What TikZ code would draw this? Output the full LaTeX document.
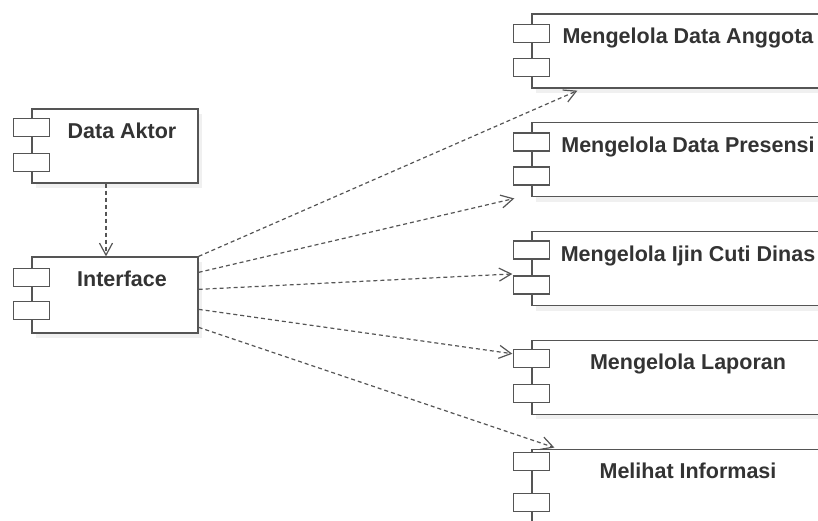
\documentclass[tikz,border=0pt]{standalone}
\usepackage{fontspec}
\setmainfont{Liberation Sans}
\usetikzlibrary{calc}
\usetikzlibrary{positioning}
\usetikzlibrary{chains,shadows,arrows.meta}
\definecolor{garis}{HTML}{555555}
\definecolor{teks}{HTML}{333333}
\tikzset{
	>={Straight Barb[length=12pt,width=13pt]},
	komponen/.style={
		rectangle,
		draw=garis, line width=1.3pt,
		fill=white,
		drop shadow={shadow xshift=4pt, shadow yshift=-5pt, opacity=0.12},
		minimum height=74pt,
		inner ysep=14pt,
		text height=15.5pt,
		text depth=30.5pt,
		text=teks,
		font=\fontsize{21.5}{24}\selectfont\bfseries,
		execute at begin node=\hspace*{14pt}},
	kiri/.style={komponen, minimum width=166pt},
	kanan/.style={komponen, minimum width=298pt, on chain},
	tab/.style={
		rectangle,
		draw=garis, line width=1.3pt,
		fill=white,
		minimum width=36pt,
		minimum height=18pt,
		inner sep=0pt},
	panah/.style={draw=garis, line width=1.2pt, dash pattern=on 4pt off 3pt, ->},
}
\begin{document}
\begin{tikzpicture}[x=1pt,y=1pt]
	\clip (0,0) rectangle (818,520);
	% kolom kiri
	\node[kiri] (aktor) at (115,374) {Data Aktor};
	\node[kiri, minimum height=76pt, text depth=32.5pt] (iface) at (115,225) {Interface};
	% kolom kanan
	\begin{scope}[start chain=going below, node distance=33.5pt]
		\node[kanan] (ang) at (681,469) {Mengelola Data Anggota};
		\node[kanan] (pres) {Mengelola Data Presensi};
		\node[kanan] (ijin) {Mengelola Ijin Cuti Dinas};
		\node[kanan] (lap) {Mengelola Laporan};
		\node[kanan] (info) {Melihat Informasi};
	\end{scope}
	% tab komponen
	\foreach \n/\t in {aktor/19,iface/21,ang/20,pres/20,ijin/19,lap/19,info/13}{
		\node[tab] (\n-a) at ($(\n.north west)+(0,-\t)$) {};
		\node[tab] (\n-b) at ($(\n.north west)+(0,-54)$) {};
	}
	% dependency
	\draw[panah] ($(aktor.south)+(-9,0)$) -- ($(iface.north)+(-9,0)$);
	\draw[panah] (iface.north east) -- ($(ang.south west)+(46,-2)$);
	\draw[panah] ($(iface.north east)+(0,-16)$) -- ($(pres.south west)+(-17,-1)$);
	\draw[panah] ($(iface.north east)+(0,-33)$) -- ($(ijin.north west)+(-19,-43)$);
	\draw[panah] ($(iface.north east)+(0,-53)$) -- ($(lap.north west)+(-19,-14)$);
	\draw[panah] ($(iface.north east)+(0,-71)$) -- ($(info.north west)+(23,1)$);
\end{tikzpicture}
\end{document}
